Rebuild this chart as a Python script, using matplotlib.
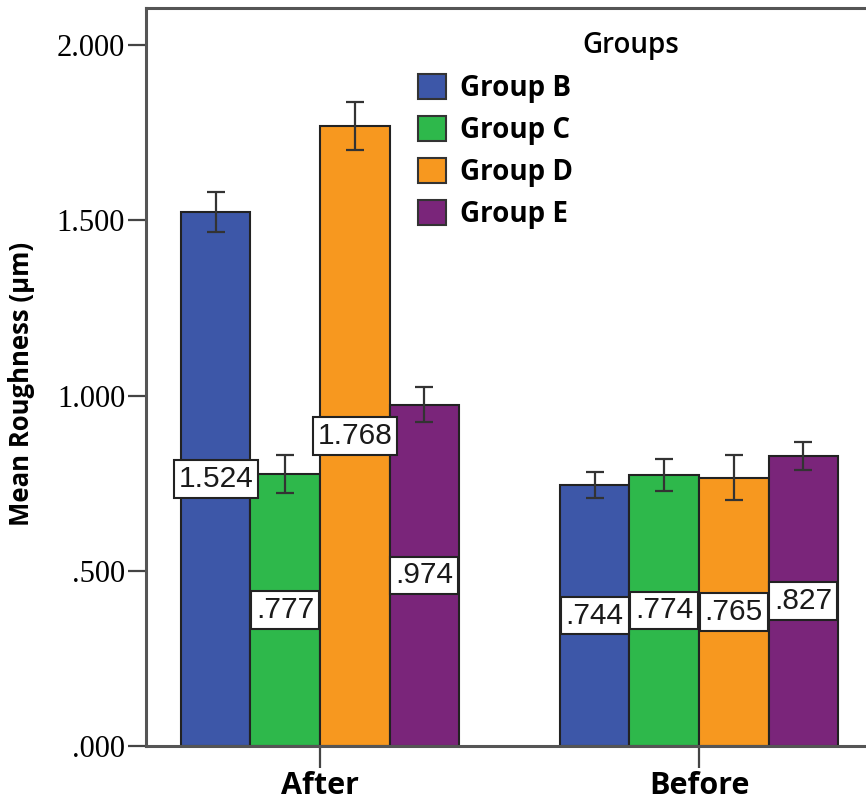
import matplotlib
matplotlib.use("Agg")
import matplotlib.pyplot as plt
import numpy as np
from matplotlib.patches import Patch

# Mean roughness by time point and group
time_points = ["After", "Before"]
groups = ["Group B", "Group C", "Group D", "Group E"]
means = {
    "Group B": [1.524, 0.744],
    "Group C": [0.777, 0.774],
    "Group D": [1.768, 0.765],
    "Group E": [0.974, 0.827],
}
errors = {
    "Group B": [0.058, 0.037],
    "Group C": [0.054, 0.046],
    "Group D": [0.068, 0.064],
    "Group E": [0.051, 0.039],
}
value_labels = {
    "Group B": ["1.524", ".744"],
    "Group C": [".777", ".774"],
    "Group D": ["1.768", ".765"],
    "Group E": [".974", ".827"],
}
y_ticks = [0.0, 0.5, 1.0, 1.5, 2.0]
y_tick_labels = [".000", ".500", "1.000", "1.500", "2.000"]

colors = {
    "Group B": "#3d57a8",
    "Group C": "#2eb84b",
    "Group D": "#f7981f",
    "Group E": "#7a257a",
}

W, H = 866, 810
fig = plt.figure(figsize=(W / 100, H / 100), dpi=100)
ax = fig.add_axes([146 / W, 64 / H, (W - 146) / W, (746 - 8) / H])

x = np.arange(len(time_points))
bar_w = 0.1834
offsets = (np.arange(len(groups)) - 1.5) * bar_w

for g, off in zip(groups, offsets):
    ax.bar(x + off, means[g], width=bar_w, color=colors[g],
           edgecolor="#222222", linewidth=1.5, zorder=2)
    ax.errorbar(x + off, means[g], yerr=errors[g], fmt="none",
                ecolor="#333333", elinewidth=1.6, capsize=6.5,
                capthick=1.6, zorder=3)
    for xi, m, lab in zip(x + off, means[g], value_labels[g]):
        ax.text(xi, m / 2, lab, ha="center", va="center",
                fontsize=21.5, family="Liberation Sans", color="#1a1a1a",
                bbox=dict(boxstyle="square,pad=0.16", facecolor="white",
                          edgecolor="#222222", linewidth=1.5),
                zorder=4)

ax.set_xlim((146 - 320) / 379, (866 - 320) / 379)
ax.set_ylim(0, (746 - 8) / 350.5)

ax.set_yticks(y_ticks)
ax.set_yticklabels(y_tick_labels, family="Liberation Serif", fontsize=22)
ax.set_xticks(x)
ax.set_xticklabels(time_points, family="Open Sans", fontweight="bold",
                   fontsize=22)
ax.tick_params(axis="y", direction="out", length=13, width=1.6,
               color="#444444", pad=2)
ax.tick_params(axis="x", direction="out", length=16, width=1.6,
               color="#444444", pad=2)

for side in ["left", "bottom", "top"]:
    ax.spines[side].set_linewidth(2.2)
    ax.spines[side].set_color("#555555")
ax.spines["right"].set_visible(False)

fig.text(22 / W, 1 - 384 / H, "Mean Roughness (µm)", rotation=90,
         ha="center", va="center", family="Open Sans", fontweight="bold",
         fontsize=18.5)

handles = [Patch(facecolor=colors[g], edgecolor="#333333", linewidth=1.5)
           for g in groups]
leg = fig.legend(handles, groups, loc="upper left",
                 bbox_to_anchor=(418 / W, 1 - 74 / H),
                 frameon=False, handlelength=1.0, handleheight=1.0,
                 handletextpad=0.5, labelspacing=0.47, borderpad=0,
                 borderaxespad=0,
                 prop=dict(family="Open Sans", weight="bold", size=20))

fig.text(631 / W, 1 - 45 / H, "Groups", ha="center", va="center",
         family="Open Sans", fontweight="semibold", fontsize=20)

fig.savefig("out.png", dpi=100)
